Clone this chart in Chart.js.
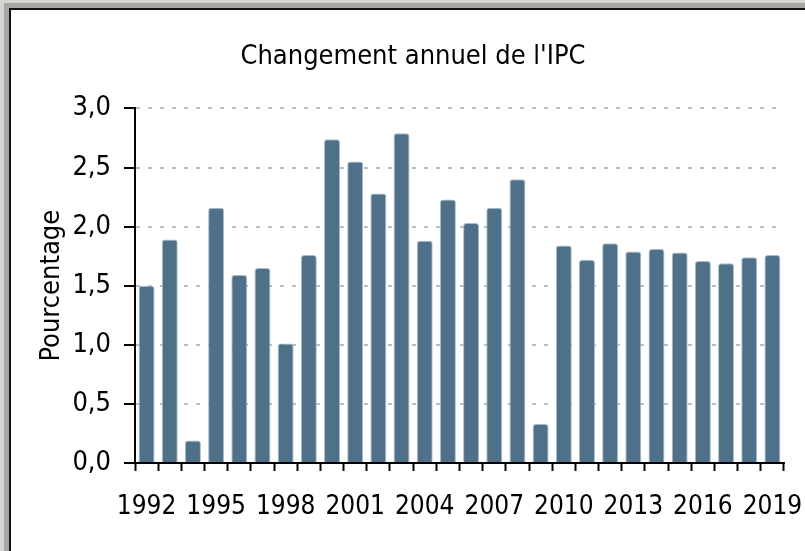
<!DOCTYPE html>
<html>
<head>
<meta charset="utf-8">
<script src="https://cdn.jsdelivr.net/npm/chart.js@4"></script>
<style>
  html, body { margin: 0; padding: 0; overflow: hidden; }
  body { width: 805px; height: 551px; background: #d6d6d0; position: relative; }
  #band { position: absolute; left: 4px; top: 3px; width: 900px; height: 700px; background: #a6a6a4; }
  #panel { position: absolute; left: 9px; top: 8px; width: 900px; height: 700px; background: #fff;
           border-left: 2px solid #111; border-top: 2px solid #111; }
  #wrap { position: absolute; left: 0; top: 0; width: 805px; height: 551px; }
</style>
</head>
<body>
<div id="band"></div>
<div id="panel"></div>
<div id="wrap"><canvas id="myChart" width="805" height="551"></canvas></div>
<script>
const years = [
  "1992", "1993", "1994", "1995", "1996", "1997", "1998", "1999", "2000", "2001",
  "2002", "2003", "2004", "2005", "2006", "2007", "2008", "2009", "2010", "2011",
  "2012", "2013", "2014", "2015", "2016", "2017", "2018", "2019",
];

// changement annuel (%)
const cpiChange = [
  1.50, 1.89, 0.19, 2.16, 1.59, 1.65, 1.01, 1.76, 2.74, 2.55,
  2.28, 2.79, 1.88, 2.23, 2.03, 2.16, 2.40, 0.33, 1.84, 1.72,
  1.86, 1.79, 1.81, 1.78, 1.71, 1.69, 1.74, 1.76,
];

const yTicks = [0, 0.5, 1, 1.5, 2, 2.5, 3];

const fontFamily = "'Liberation Sans Narrow', 'Arial Narrow', 'DejaVu Sans Condensed', sans-serif";
Chart.defaults.font.family = fontFamily;
Chart.defaults.color = "#000";

const chartScalesX = {
  z: 1,
  offset: true,
  grid: {
    offset: true,
    drawOnChartArea: false,
    drawTicks: true,
    tickLength: 8,
    tickColor: "#000",
    tickWidth: 2,
  },
  border: { display: true, color: "#000", width: 2 },
  ticks: {
    autoSkip: false,
    maxRotation: 0,
    padding: 21,
    font: { size: 26 },
    callback: (val, i) => (i % 3 === 0 ? years[i] : ""),
  },
  afterFit: (scale) => {
    scale.height = 88;
    // labels may overhang the plot, keep the plot where it is
    scale.paddingLeft = 0;
    scale.paddingRight = 0;
  },
};

const chartScalesY = {
  min: 0,
  max: 3,
  afterBuildTicks: (scale) => {
    scale.ticks = yTicks.map((v) => ({ value: v }));
  },
  grid: {
    color: "#bdbdbd",
    lineWidth: 2,
    tickLength: 11,
    tickColor: "#000",
    tickWidth: 2,
    tickBorderDash: [],
  },
  border: { display: true, color: "#000", width: 2, dash: [4, 8] },
  ticks: {
    padding: 13,
    font: { size: 27 },
    callback: (v) => Number(v).toFixed(1).replace(".", ","),
  },
  title: {
    display: true,
    text: "Pourcentage",
    font: { size: 27 },
    padding: { top: -6, bottom: 0 },
  },
  afterFit: (scale) => {
    scale.width = 93;
  },
};

new Chart(document.getElementById("myChart"), {
  type: "bar",
  data: {
    labels: years,
    datasets: [
      {
        label: "IPC",
        data: cpiChange,
        backgroundColor: "#4e7189",
        borderColor: "#a9bccb",
        borderWidth: 1,
        borderRadius: 3,
        barPercentage: 0.69,
        categoryPercentage: 1,
      },
    ],
  },
  options: {
    responsive: false,
    animation: false,
    layout: { padding: { left: 42, right: 21, top: 0, bottom: 0 } },
    scales: {
      x: chartScalesX,
      y: chartScalesY,
    },
    plugins: {
      legend: { display: false },
      tooltip: { enabled: false },
      title: {
        display: true,
        text: "Changement annuel de l'IPC",
        color: "#000",
        font: { size: 27, weight: "normal" },
        padding: { top: 41, bottom: 35 },
      },
    },
  },
});
</script>
</body>
</html>
